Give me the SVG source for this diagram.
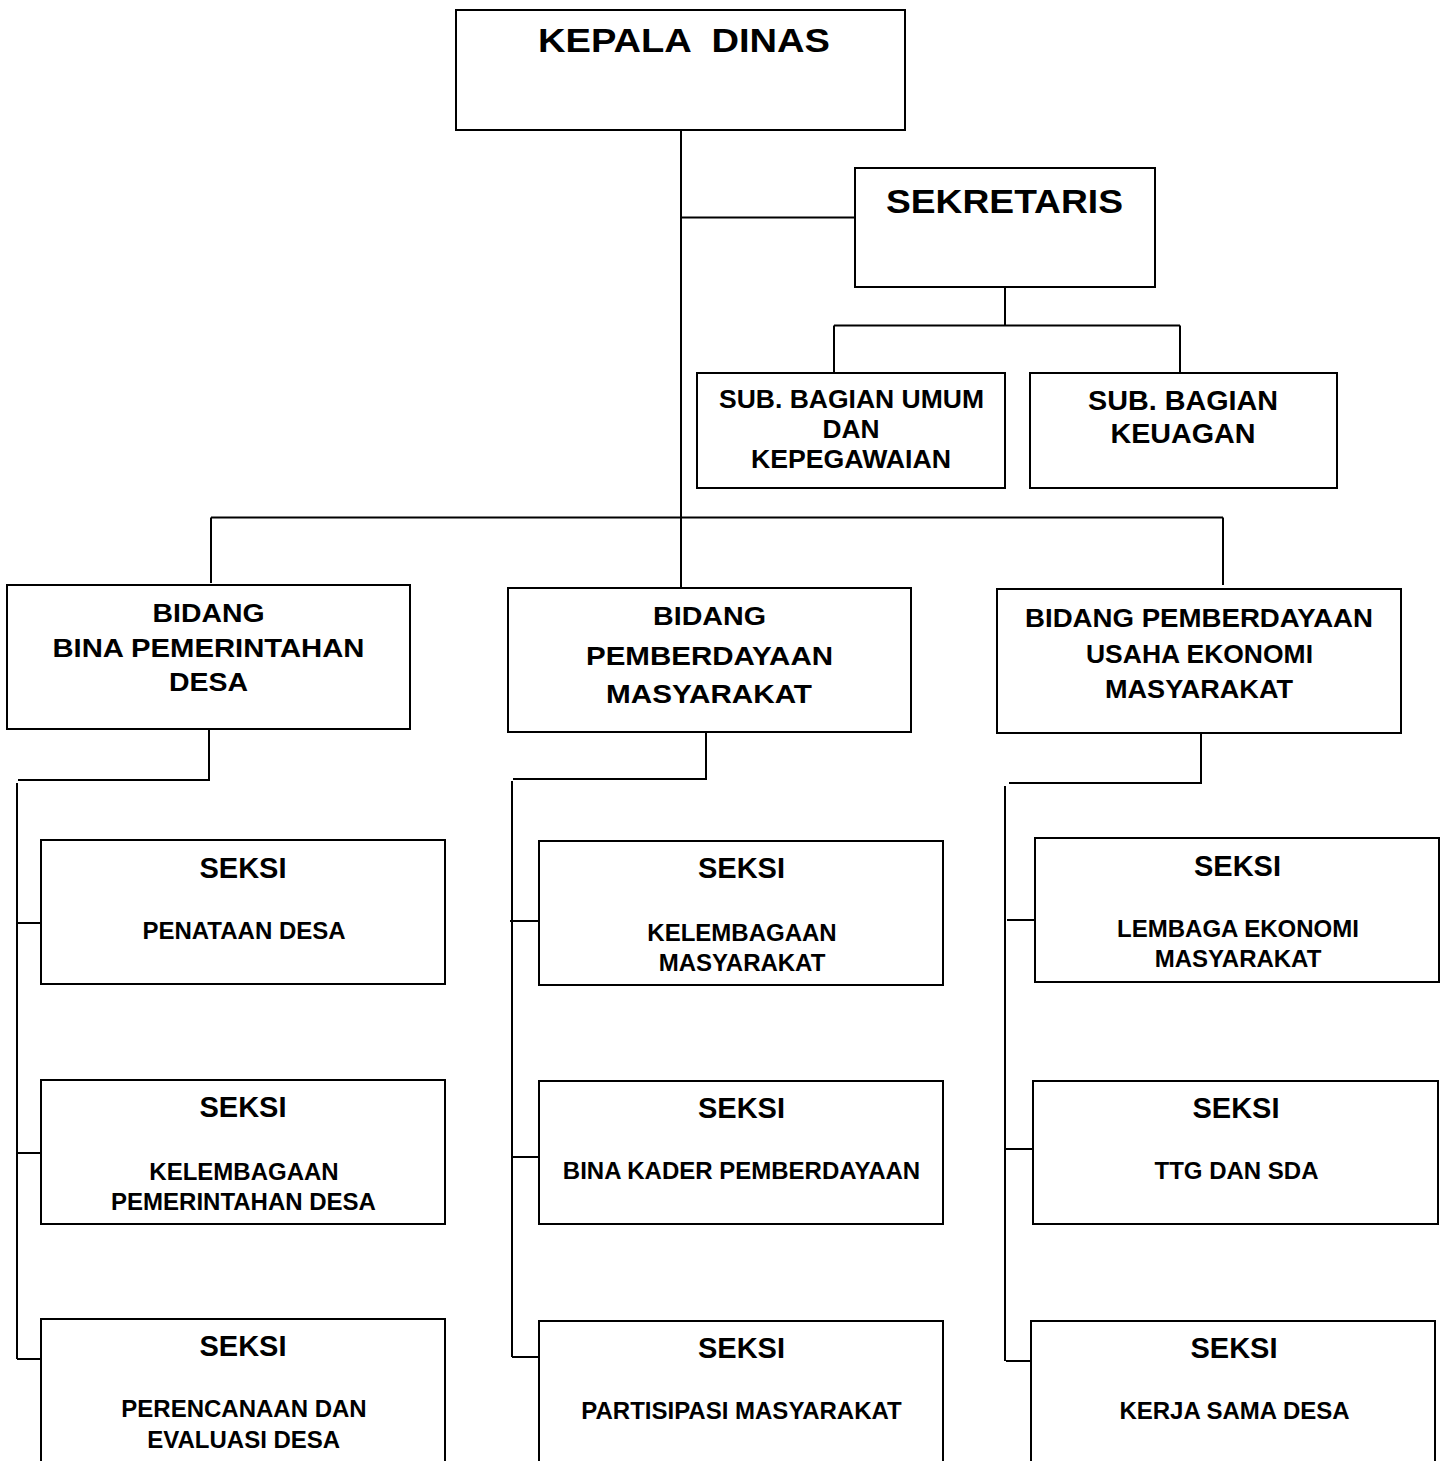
<svg xmlns="http://www.w3.org/2000/svg" width="1446" height="1461" viewBox="0 0 1446 1461">
<style>
.box{fill:#fff;stroke:#000;stroke-width:2}
.ln{stroke:#000;stroke-width:2;fill:none}
text{font-family:"Liberation Sans",Arial,sans-serif;font-weight:bold;fill:#000;text-anchor:middle}
.t1{font-size:33px;white-space:pre}
.t2{font-size:26px}
.sk{font-size:29px}
.s2{font-size:24px}
</style>
<rect width="1446" height="1461" fill="#fff"/>
<g id="connectors">
<path class="ln" d="M681,130V588M681,217.5H855M1005,287V325.5M834,325.5H1180M834,325.5V373M1180,325.5V373M211,517.5H1223M211,517.5V583M1223,517.5V585"/>
<path class="ln" d="M209,730V780H18M17,783V1359M17,923H41M17,1153H41M17,1359H41"/>
<path class="ln" d="M706,733V779H513M512,781V1357M510,921H539M512,1157H539M512,1357H539"/>
<path class="ln" d="M1201,733V783H1009M1005,786V1361M1007,920H1035M1006,1149H1033M1006,1361H1031"/>
</g>
<g id="kepala-dinas">
<rect class="box" x="456" y="10" width="449" height="120"/>
<text class="t1" xml:space="preserve" x="684" y="52" textLength="292" lengthAdjust="spacingAndGlyphs">KEPALA  DINAS</text>
</g>
<g id="sekretaris">
<rect class="box" x="855" y="168" width="300" height="119"/>
<text class="t1" x="1004.5" y="213" textLength="237" lengthAdjust="spacingAndGlyphs">SEKRETARIS</text>
</g>
<g id="sub-umum">
<rect class="box" x="697" y="373" width="308" height="115"/>
<text style="font-size:25.5px" x="851.5" y="408" textLength="265" lengthAdjust="spacingAndGlyphs">SUB. BAGIAN UMUM</text>
<text style="font-size:25.5px" x="851" y="438" textLength="57" lengthAdjust="spacingAndGlyphs">DAN</text>
<text style="font-size:25.5px" x="851" y="468" textLength="200" lengthAdjust="spacingAndGlyphs">KEPEGAWAIAN</text>
</g>
<g id="sub-keuangan">
<rect class="box" x="1030" y="373" width="307" height="115"/>
<text style="font-size:28px" x="1183" y="410" textLength="190" lengthAdjust="spacingAndGlyphs">SUB. BAGIAN</text>
<text style="font-size:28px" x="1183" y="443" textLength="145" lengthAdjust="spacingAndGlyphs">KEUAGAN</text>
</g>
<g id="bidang-pemerintahan">
<rect class="box" x="7" y="585" width="403" height="144"/>
<text class="t2" x="208.5" y="622" textLength="112" lengthAdjust="spacingAndGlyphs">BIDANG</text>
<text class="t2" x="208.5" y="657" textLength="312" lengthAdjust="spacingAndGlyphs">BINA PEMERINTAHAN</text>
<text class="t2" x="208.5" y="691" textLength="79" lengthAdjust="spacingAndGlyphs">DESA</text>
</g>
<g id="bidang-pemberdayaan">
<rect class="box" x="508" y="588" width="403" height="144"/>
<text class="t2" x="709.5" y="625" textLength="113" lengthAdjust="spacingAndGlyphs">BIDANG</text>
<text class="t2" x="709.5" y="665" textLength="247" lengthAdjust="spacingAndGlyphs">PEMBERDAYAAN</text>
<text class="t2" x="709" y="703" textLength="206" lengthAdjust="spacingAndGlyphs">MASYARAKAT</text>
</g>
<g id="bidang-ekonomi">
<rect class="box" x="997" y="589" width="404" height="144"/>
<text style="font-size:25.5px" x="1199" y="627" textLength="348" lengthAdjust="spacingAndGlyphs">BIDANG PEMBERDAYAAN</text>
<text style="font-size:25.5px" x="1199.5" y="663" textLength="227" lengthAdjust="spacingAndGlyphs">USAHA EKONOMI</text>
<text style="font-size:25.5px" x="1199" y="698" textLength="188" lengthAdjust="spacingAndGlyphs">MASYARAKAT</text>
</g>
<g id="seksi-penataan">
<rect class="box" x="41" y="840" width="404" height="144"/>
<text class="sk" x="243" y="878">SEKSI</text>
<text class="s2" x="244" y="939">PENATAAN DESA</text>
</g>
<g id="seksi-kelembagaan-pemdes">
<rect class="box" x="41" y="1080" width="404" height="144"/>
<text class="sk" x="243" y="1117">SEKSI</text>
<text class="s2" x="244" y="1180">KELEMBAGAAN</text>
<text class="s2" x="243.5" y="1210">PEMERINTAHAN DESA</text>
</g>
<g id="seksi-perencanaan">
<rect class="box" x="41" y="1319" width="404" height="160"/>
<text class="sk" x="243" y="1356">SEKSI</text>
<text class="s2" x="244" y="1417">PERENCANAAN DAN</text>
<text class="s2" x="243.7" y="1448">EVALUASI DESA</text>
</g>
<g id="seksi-kelembagaan-masy">
<rect class="box" x="539" y="841" width="404" height="144"/>
<text class="sk" x="741.5" y="878">SEKSI</text>
<text class="s2" x="742" y="941">KELEMBAGAAN</text>
<text class="s2" x="742" y="971">MASYARAKAT</text>
</g>
<g id="seksi-kader">
<rect class="box" x="539" y="1081" width="404" height="143"/>
<text class="sk" x="741.5" y="1118">SEKSI</text>
<text class="s2" x="741.5" y="1179">BINA KADER PEMBERDAYAAN</text>
</g>
<g id="seksi-partisipasi">
<rect class="box" x="539" y="1321" width="404" height="160"/>
<text class="sk" x="741.5" y="1358">SEKSI</text>
<text class="s2" x="741.5" y="1419">PARTISIPASI MASYARAKAT</text>
</g>
<g id="seksi-lembaga-ekonomi">
<rect class="box" x="1035" y="838" width="404" height="144"/>
<text class="sk" x="1237.5" y="876">SEKSI</text>
<text class="s2" x="1238" y="937">LEMBAGA EKONOMI</text>
<text class="s2" x="1238" y="967">MASYARAKAT</text>
</g>
<g id="seksi-ttg">
<rect class="box" x="1033" y="1081" width="405" height="143"/>
<text class="sk" x="1236" y="1118">SEKSI</text>
<text class="s2" x="1236.5" y="1179">TTG DAN SDA</text>
</g>
<g id="seksi-kerjasama">
<rect class="box" x="1031" y="1321" width="404" height="160"/>
<text class="sk" x="1234" y="1358">SEKSI</text>
<text class="s2" x="1234.5" y="1419">KERJA SAMA DESA</text>
</g>
</svg>
